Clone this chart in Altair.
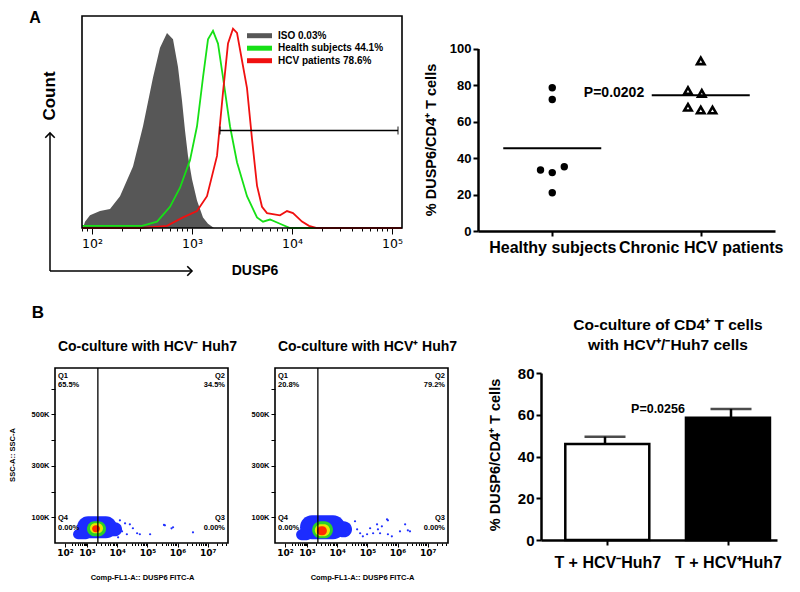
import altair as alt
import numpy as np
import pandas as pd

FONT = "Liberation Sans"
W, H = 784, 576

# ------------------------------------------------------------------ data
# Panel A (left): DUSP6 histogram; x = log10(DUSP6 intensity), y = % of mode
iso_x = [1.91, 1.93, 1.98, 2.08, 2.18, 2.28, 2.41, 2.51, 2.61, 2.68, 2.75, 2.81, 2.86, 2.90, 2.93, 2.96, 3.00, 3.05, 3.11, 3.16, 3.22]
iso_y = [0, 3, 6, 8, 9, 15, 29, 48, 71, 85, 92, 89, 76, 60, 46, 34, 23, 13, 5, 2, 0]
hs_x = [1.90, 2.30, 2.50, 2.65, 2.78, 2.88, 2.98, 3.05, 3.11, 3.16, 3.21, 3.26, 3.31, 3.38, 3.45, 3.55, 3.65, 3.71, 3.78, 3.88, 3.98, 5.10]
hs_y = [1, 1, 1, 3, 10, 19, 32, 48, 71, 89, 93, 87, 71, 48, 31, 15, 5, 3, 4, 2, 0, 0]
hcv_x = [1.90, 2.50, 2.75, 2.91, 3.05, 3.15, 3.25, 3.31, 3.36, 3.41, 3.45, 3.50, 3.55, 3.60, 3.65, 3.70, 3.75, 3.88, 3.95, 4.01, 4.10, 4.17, 4.25, 5.10]
hcv_y = [0, 0, 1, 5, 8, 15, 34, 64, 87, 94, 92, 79, 66, 42, 20, 10, 7, 6, 8, 7, 3, 1, 0, 0]
hist_series = ["ISO  0.03%", "Health subjects 44.1%", "HCV patients 78.6%"]
hist_colors = ["#575757", "#16e016", "#f01010"]
gate_range = [3.28, 5.06]
gate_level = [46]
hist_ticks = [2, 3, 4, 5]
hist_tick_text = ["10²", "10³", "10⁴", "10⁵"]

# Panel A (right): % DUSP6+ of CD4+ T cells
groups_a = ["Healthy subjects", "Chronic HCV patients"]
healthy_vals = [78.5, 72.1, 33.4, 32.0, 35.2, 21.0]
healthy_jitter = [0.0, 0.0, -0.079, 0.0, 0.081, 0.0]
hcv_vals = [93.2, 76.9, 75.4, 67.8, 66.3, 66.3]
hcv_jitter = [0.0, -0.086, 0.007, -0.086, 0.0, 0.079]
p_a = "P=0.0202"

# Panel B: flow plots (x = display decade of FL1, y = SSC-A in thousands)
flow_titles = ["Co-culture with HCV⁻ Huh7", "Co-culture with HCV⁺ Huh7"]
quad_names = ["Q1", "Q2", "Q4", "Q3"]
quad_pcts = [["65.5%", "34.5%", "0.00%", "0.00%"], ["20.8%", "79.2%", "0.00%", "0.00%"]]
quad_gate = 3.36
fl_major = [2.27, 3, 4, 5, 6, 7]
fl_tick_text = ["10²", "10³", "10⁴", "10⁵", "10⁶", "10⁷"]
ssc_ticks = [100, 200, 300, 400, 500, 600]
blob_levels = ["blue", "blue", "blue", "green", "yellow", "red"]
blob_colors = {"blue": "#1c2cff", "green": "#2ad02a", "yellow": "#e8e800", "red": "#ff2a00"}
flow1_blob = {"x0": [2.67, 2.54, 3.56, 3.00, 3.10, 3.17], "x1": [3.99, 3.13, 4.16, 3.63, 3.53, 3.43],
              "y0": [18, 15, 26, 26, 38, 42], "y1": [104, 53, 81, 85, 77, 69]}
flow2_blob = {"x0": [2.77, 2.64, 3.93, 3.17, 3.26, 3.33], "x1": [4.26, 3.17, 4.49, 3.86, 3.76, 3.66],
              "y0": [15, 11, 22, 18, 26, 30], "y1": [108, 53, 85, 85, 73, 65]}
flow1_dots_x = [4.26, 4.42, 4.66, 4.75, 5.09, 5.58, 5.85, 6.51, 4.16, 4.32, 4.09, 4.03, 4.52, 5.55, 5.80]
flow1_dots_y = [76.7, 72.8, 37.9, 34.0, 34.0, 68.9, 61.2, 41.7, 45.6, 34.0, 88.3, 22.3, 57.3, 70.0, 57.0]
flow2_dots_x = [4.42, 4.66, 4.76, 4.99, 5.09, 5.32, 5.42, 5.65, 5.68, 5.81, 6.08, 6.25, 6.34, 4.85, 5.19, 5.35, 5.48, 6.41, 5.68, 4.59, 4.32]
flow2_dots_y = [65.0, 53.4, 37.9, 34.0, 57.3, 72.8, 37.9, 92.2, 34.0, 26.2, 45.6, 72.8, 49.5, 26.2, 37.9, 53.4, 65.0, 45.6, 88.3, 84.5, 41.7]

# Panel B (right): bar chart
groups_b = ["T + HCV⁻Huh7", "T + HCV⁺Huh7"]
bar_means = [46.0, 58.6]
bar_sem = [3.5, 4.2]
bar_fill = ["white", "black"]
p_b = "P=0.0256"

# ------------------------------------------------------------------ layout (pixel ranges)
HIST_X, HIST_Y = [74, 394], [220, 8]
SC_X, SC_Y = [470, 767], [223, 40.5]
FL_X, FL_Y = [[47, 220], [267, 440]], [535, 360]
BAR_X, BAR_Y = [533, 769], [532, 365]


def scale(domain, rng, zero=False):
    return alt.Scale(domain=domain, range=rng, nice=False, zero=zero)


def axis(orient, offset, values, expr=None, size=12, weight="bold", tick=5, tickw=1.0,
         domain=True, domainw=1.0, labels=True, pad=2, font=FONT):
    kw = dict(orient=orient, offset=offset, values=values, title=None, grid=False,
              tickSize=tick, tickWidth=tickw, domain=domain, labels=labels,
              labelFontSize=size, labelFontWeight=weight, labelFont=font, labelPadding=pad,
              labelColor="black", tickColor="black", domainColor="black",
              labelOverlap=False, labelFlush=False)
    if domain:
        kw["domainWidth"] = domainw
    if expr:
        kw["labelExpr"] = expr
    return alt.Axis(**kw)


def js_list(items):
    return "[" + ",".join("'" + s + "'" for s in items) + "]"


def text(t, x, y, size, angle=0, weight="bold", align="center", baseline="middle"):
    return alt.Chart(pd.DataFrame({"t": [t]})).mark_text(
        font=FONT, fontSize=size, fontWeight=weight, angle=angle, align=align,
        baseline=baseline, color="black").encode(x=alt.value(x), y=alt.value(y), text="t:N")


def frame(xr, yr, width=1.5):
    return alt.Chart(pd.DataFrame({"a": [0]})).mark_rect(
        fillOpacity=0, stroke="black", strokeWidth=width).encode(
        x=alt.value(xr[0]), x2=alt.value(xr[1]), y=alt.value(yr[1]), y2=alt.value(yr[0]))


layers = []

# ------------------------------------------------------------------ Panel A histogram
hx = scale([1.9, 5.1], HIST_X)
hy = scale([0, 100], HIST_Y)
hist_minor = [float(np.log10(k * 10 ** n)) for n in range(1, 5) for k in range(2, 10)
              if 1.9 <= np.log10(k * 10 ** n) <= 5.1]
hist_expr = js_list(hist_tick_text) + "[round(datum.value) - 2]"

df_iso = pd.DataFrame({"x": iso_x, "y": iso_y})
df_hs = pd.DataFrame({"x": hs_x, "y": hs_y})
df_hcv = pd.DataFrame({"x": hcv_x, "y": hcv_y})

layers.append(alt.Chart(df_iso).mark_area(color=hist_colors[0], opacity=1, orient="vertical").encode(
    x=alt.X("x:Q", scale=hx, axis=axis("bottom", HIST_Y[0] - H, hist_ticks, hist_expr, size=12.5,
                                       weight="normal", tick=6, domain=False, pad=3,
                                       font="DejaVu Sans")),
    y=alt.Y("y:Q", scale=hy, axis=None, stack=None)))
layers.append(alt.Chart(df_hs).mark_line(color=hist_colors[1], strokeWidth=1.8).encode(
    x=alt.X("x:Q", scale=hx, axis=axis("bottom", HIST_Y[0] - H, hist_minor, tick=3,
                                       domain=False, labels=False)),
    y=alt.Y("y:Q", scale=hy, axis=None)))
layers.append(alt.Chart(df_hcv).mark_line(color=hist_colors[2], strokeWidth=1.8).encode(
    x=alt.X("x:Q", scale=hx, axis=None), y=alt.Y("y:Q", scale=hy, axis=None)))
layers.append(frame(HIST_X, HIST_Y, 1.6))

df_gate = pd.DataFrame({"lo": [gate_range[0]], "hi": [gate_range[1]], "lvl": gate_level})
layers.append(alt.Chart(df_gate).mark_rule(color="black", strokeWidth=1.3).encode(
    x=alt.X("lo:Q", scale=hx, axis=None), x2="hi:Q", y=alt.Y("lvl:Q", scale=hy, axis=None)))
df_gate_end = pd.DataFrame({"x": gate_range, "lvl": gate_level * 2})
layers.append(alt.Chart(df_gate_end).mark_tick(orient="vertical", size=8, thickness=1.3, color="black").encode(
    x=alt.X("x:Q", scale=hx, axis=None), y=alt.Y("lvl:Q", scale=hy, axis=None)))

df_leg = pd.DataFrame({"label": hist_series, "color": hist_colors, "row": [0, 1, 2]})
ly = alt.Scale(type="point", domain=[0, 1, 2], range=[27.7, 52.7], padding=0)
layers.append(alt.Chart(df_leg).mark_rule(strokeWidth=5).encode(
    x=alt.value(239), x2=alt.value(264), y=alt.Y("row:O", scale=ly, axis=None),
    color=alt.Color("color:N", scale=None)))
layers.append(alt.Chart(df_leg).mark_text(font=FONT, fontSize=10, fontWeight="bold", align="left",
                                          baseline="middle", color="black").encode(
    x=alt.value(270), y=alt.Y("row:O", scale=ly, axis=None), text="label:N"))

# axis arrows and labels
layers.append(alt.Chart(pd.DataFrame({"a": [0]})).mark_rule(color="black", strokeWidth=1.5).encode(
    x=alt.value(42), y=alt.value(126), y2=alt.value(263)))
layers.append(alt.Chart(pd.DataFrame({"a": [0]})).mark_rule(color="black", strokeWidth=1.5).encode(
    x=alt.value(42), x2=alt.value(183), y=alt.value(263)))
layers.append(alt.Chart(pd.DataFrame({"a": [0]})).mark_point(
    shape="M -1 1 L 0 0 L 1 1", filled=False, size=90, strokeWidth=1.6, color="black", opacity=1).encode(
    x=alt.value(42), y=alt.value(125)))
layers.append(alt.Chart(pd.DataFrame({"a": [0]})).mark_point(
    shape="M -1 1 L 0 0 L 1 1", filled=False, size=90, strokeWidth=1.6, color="black", opacity=1,
    angle=90).encode(x=alt.value(184), y=alt.value(263)))
layers.append(text("Count", 42, 88, 17, angle=270))
layers.append(text("DUSP6", 247, 263, 14))
layers.append(text("A", 27, 2, 16, baseline="top"))

# ------------------------------------------------------------------ Panel A scatter
sxs = scale([-0.5, 1.5], SC_X)
sys_ = scale([0, 100], SC_Y)
df_h = pd.DataFrame({"pos": [0 + j for j in healthy_jitter], "val": healthy_vals})
df_c = pd.DataFrame({"pos": [1 + j for j in hcv_jitter], "val": hcv_vals})
sc_expr = js_list(groups_a) + "[round(datum.value)]"

layers.append(alt.Chart(df_h).mark_point(shape="circle", filled=True, size=55, color="black", opacity=1).encode(
    x=alt.X("pos:Q", scale=sxs, axis=axis("bottom", SC_Y[0] - H, [0, 1], sc_expr, size=16, tick=5,
                                          tickw=2, domainw=2.5, pad=3)),
    y=alt.Y("val:Q", scale=sys_, axis=axis("left", -SC_X[0], [0, 20, 40, 60, 80, 100], size=13,
                                           tick=5, tickw=2, domainw=2.5, pad=2))))
layers.append(alt.Chart(df_c).mark_point(shape="triangle-up", filled=False, size=55, strokeWidth=2.6,
                                         color="black", opacity=1).encode(
    x=alt.X("pos:Q", scale=sxs, axis=None), y=alt.Y("val:Q", scale=sys_, axis=None)))
df_mean = pd.DataFrame({"lo": [-0.33, 0.67], "hi": [0.33, 1.33],
                        "m": [float(np.mean(healthy_vals)), float(np.mean(hcv_vals))]})
layers.append(alt.Chart(df_mean).mark_rule(color="black", strokeWidth=2).encode(
    x=alt.X("lo:Q", scale=sxs, axis=None), x2="hi:Q", y=alt.Y("m:Q", scale=sys_, axis=None)))
layers.append(text(p_a, 606, 85, 14))
layers.append(text("% DUSP6/CD4⁺ T cells", 424, 132, 14.5, angle=270))

# ------------------------------------------------------------------ Panel B flow plots
fy = scale([0, 680], FL_Y)
fl_minor = ([2.27 + (3 - 2.27) * float(np.log10(k)) for k in range(2, 10)] +
            [d + float(np.log10(k)) for d in range(3, 7) for k in range(2, 10)] +
            [7 + float(np.log10(k)) for k in range(2, 5)])
fl_expr = js_list(fl_tick_text) + "[round(datum.value) - 2]"
ssc_expr = "datum.value % 200 == 100 ? datum.value + 'K' : ''"

flows = [(flow1_blob, flow1_dots_x, flow1_dots_y), (flow2_blob, flow2_dots_x, flow2_dots_y)]
for i, (blob, dxs, dys) in enumerate(flows):
    fx = scale([1.94, 7.67], FL_X[i])
    df_blob = pd.DataFrame(blob)
    df_blob["level"] = blob_levels
    df_blob["order"] = range(len(blob_levels))
    layers.append(alt.Chart(df_blob).mark_rect(cornerRadius=14, opacity=1).encode(
        x=alt.X("x0:Q", scale=fx, axis=axis("bottom", FL_Y[0] - H, fl_minor, tick=2.5,
                                            domain=False, labels=False)),
        x2="x1:Q",
        y=alt.Y("y0:Q", scale=fy, axis=None), y2="y1:Q",
        color=alt.Color("level:N", scale=alt.Scale(domain=list(blob_colors.keys()),
                                                   range=list(blob_colors.values())), legend=None),
        order="order:Q"))
    df_dots = pd.DataFrame({"x": dxs, "y": dys})
    layers.append(alt.Chart(df_dots).mark_circle(size=5, color="#2030ff", opacity=1).encode(
        x=alt.X("x:Q", scale=fx, axis=axis("bottom", FL_Y[0] - H, fl_major, fl_expr, size=9,
                                          tick=4, domain=False, pad=1, font="DejaVu Sans")),
        y=alt.Y("y:Q", scale=fy, axis=axis("left", -FL_X[i][0], ssc_ticks, ssc_expr, size=7.5,
                                          tick=4, domain=False, pad=2))))
    layers.append(alt.Chart(pd.DataFrame({"g": [quad_gate]})).mark_rule(color="black", strokeWidth=1.3).encode(
        x=alt.X("g:Q", scale=fx, axis=None), y=alt.value(FL_Y[1]), y2=alt.value(FL_Y[0])))
    layers.append(frame(FL_X[i], FL_Y, 1.6))
    xl, xr = FL_X[i][0] + 3, FL_X[i][1] - 3
    layers.append(text(quad_names[0], xl, 368, 7.5, align="left"))
    layers.append(text(quad_pcts[i][0], xl, 377, 7.5, align="left"))
    layers.append(text(quad_names[1], xr, 368, 7.5, align="right"))
    layers.append(text(quad_pcts[i][1], xr, 377, 7.5, align="right"))
    layers.append(text(quad_names[2], xl, 510, 7.5, align="left"))
    layers.append(text(quad_pcts[i][2], xl, 520, 7.5, align="left"))
    layers.append(text(quad_names[3], xr, 510, 7.5, align="right"))
    layers.append(text(quad_pcts[i][3], xr, 520, 7.5, align="right"))
    cx = (FL_X[i][0] + FL_X[i][1]) / 2
    layers.append(text(flow_titles[i], cx + 6, 339, 14))
    layers.append(text("Comp-FL1-A:: DUSP6 FITC-A", cx + 1, 570, 7.5))

layers.append(text("SSC-A:: SSC-A", 5, 447, 7.5, angle=270))
layers.append(text("B", 30, 305, 17))

# ------------------------------------------------------------------ Panel B bars
bxs = scale([-0.508, 1.365], BAR_X)
bys = alt.Scale(domain=[0, 80], range=BAR_Y, nice=False)
df_bar = pd.DataFrame({"pos": [0, 1], "mean": bar_means,
                       "top": [m + s for m, s in zip(bar_means, bar_sem)], "fill": bar_fill})
bar_expr = js_list(groups_b) + "[round(datum.value)]"
layers.append(alt.Chart(df_bar).mark_rule(color="black", strokeWidth=2.5).encode(
    x=alt.X("pos:Q", scale=bxs, axis=None), y=alt.Y("mean:Q", scale=bys, axis=None), y2="top:Q"))
layers.append(alt.Chart(df_bar).mark_tick(orient="horizontal", size=41, thickness=2.5, color="black").encode(
    x=alt.X("pos:Q", scale=bxs, axis=None), y=alt.Y("top:Q", scale=bys, axis=None)))
layers.append(alt.Chart(df_bar).mark_bar(size=84, stroke="black", strokeWidth=2.5, orient="vertical").encode(
    x=alt.X("pos:Q", scale=bxs, axis=axis("bottom", BAR_Y[0] - H, [0, 1], bar_expr, size=16, tick=5,
                                          tickw=2, domainw=2.5, pad=9)),
    y=alt.Y("mean:Q", scale=bys, stack=None,
            axis=axis("left", -BAR_X[0], [0, 20, 40, 60, 80], size=15, tick=5, tickw=2,
                      domainw=2.5, pad=2)),
    fill=alt.Fill("fill:N", scale=None)))
layers.append(text("Co-culture of CD4⁺ T cells", 660, 317, 15.5))
layers.append(text("with HCV⁺/⁻Huh7 cells", 660, 337, 15.5))
layers.append(text(p_b, 650, 401, 12.5))
layers.append(text("% DUSP6/CD4⁺ T cells", 488, 447, 14.5, angle=270))

chart = alt.layer(*layers).properties(
    width=W, height=H, autosize=alt.AutoSizeParams(type="none"), padding=0
).resolve_scale(x="independent", y="independent", color="independent", fill="independent"
).resolve_axis(x="independent", y="independent").configure_view(stroke=None)

chart.save("out.html", embed_options={"renderer": "svg", "actions": False})
